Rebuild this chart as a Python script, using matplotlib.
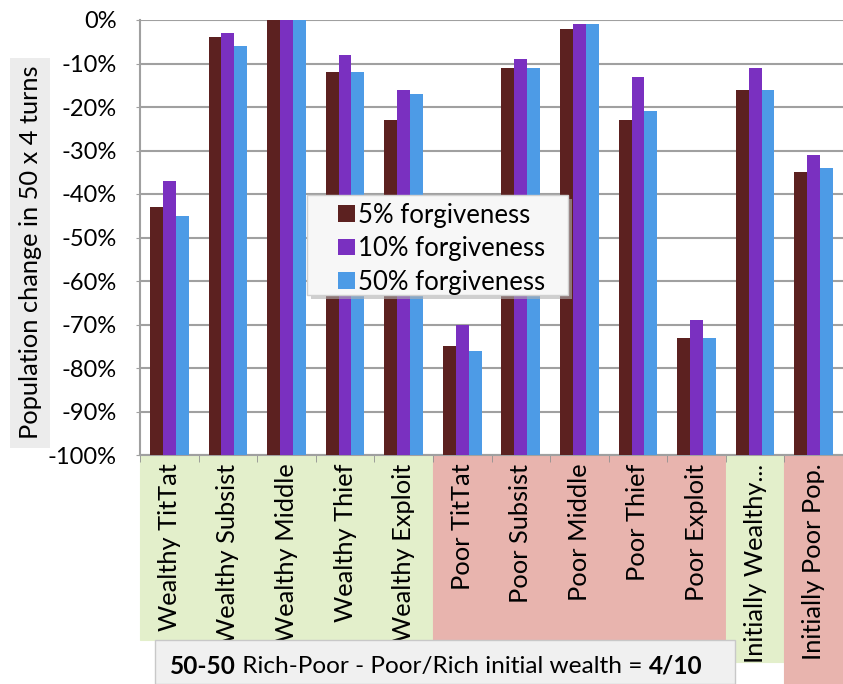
import numpy as np
import matplotlib
matplotlib.use("Agg")
import matplotlib.pyplot as plt
from matplotlib.patches import Rectangle
from matplotlib.text import Annotation
from matplotlib.container import BarContainer
from matplotlib.legend_handler import HandlerPatch, update_from_first_child

plt.rcParams['font.family'] = ['Lato', 'DejaVu Sans']

categories = ['Wealthy TitTat', 'Wealthy Subsist', 'Wealthy Middle', 'Wealthy Thief',
              'Wealthy Exploit', 'Poor TitTat', 'Poor Subsist', 'Poor Middle',
              'Poor Thief', 'Poor Exploit', 'Initially Wealthy...', 'Initially Poor Pop.']
forgive5 = [-43, -4, 0, -12, -23, -75, -11, -2, -23, -73, -16, -35]
forgive10 = [-37, -3, 0, -8, -16, -70, -9, -1, -13, -69, -11, -31]
forgive50 = [-45, -6, 0, -12, -17, -76, -11, -1, -21, -73, -16, -34]
series_names = ['5% forgiveness', '10% forgiveness', '50% forgiveness']
# label background per category: green for wealthy groups, pink for poor groups
label_bg = ['g', 'g', 'g', 'g', 'g', 'p', 'p', 'p', 'p', 'p', 'g', 'p']

colors = ['#5c2120', '#7a30c0', '#4d9be6']
bg_col = {'g': '#e3efcb', 'p': '#e8b4ae'}
base = -100  # excel axis crosses at -100%, bars grow up from there

fig = plt.figure(figsize=(8.43, 6.84), dpi=100)
ax = fig.add_axes([140/843, 1-455/684, 703/843, 435/684])

x = np.arange(len(categories))
w = 0.22
for i, vals in enumerate([forgive5, forgive10, forgive50]):
    vals = np.array(vals)
    ax.bar(x + (i-1)*w, vals - base, w, bottom=base, color=colors[i],
           label=series_names[i], zorder=3)

ax.set_xlim(-0.5, -0.5 + 703/59.2)
ax.set_ylim(-100, 0)
yt = np.arange(-100, 1, 10)
ax.set_yticks(yt)
ax.set_yticklabels(['%d%%' % v for v in yt], fontsize=17)
ax.yaxis.grid(True, color='#a0a0a0', linewidth=1.5, zorder=0)
ax.set_axisbelow(True)
for s in ['top', 'right']:
    ax.spines[s].set_visible(False)
for s in ['left', 'bottom']:
    ax.spines[s].set_color('#a0a0a0')
    ax.spines[s].set_linewidth(1.5)
ax.tick_params(axis='y', length=3, color='#a0a0a0', pad=14)
ax.set_xticks(x)
ax.set_xticklabels([])
ax.tick_params(axis='x', length=0)
ax.set_xticks(np.arange(-0.5, len(categories), 1), minor=True)
ax.tick_params(axis='x', which='minor', length=5, color='#909090', direction='out')

# coloured label cells under the axis, labels clipped to their cell
trans = ax.get_xaxis_transform()
for i, c in enumerate(label_bg):
    bottom = -0.425
    if i == 10:
        bottom = -0.476
    elif i == 11:
        bottom = -0.55
    cell = Rectangle((i-0.5, bottom), 1, -bottom, transform=trans,
                     facecolor=bg_col[c], edgecolor=bg_col[c], linewidth=0.8,
                     clip_on=False, zorder=0)
    ax.add_patch(cell)
    t = ax.text(i, -0.02, categories[i], transform=trans, rotation=90, ha='center', va='top',
                fontsize=18.3, color='black')
    t.set_clip_path(cell)

ax.set_ylabel('Population change in 50 x 4 turns', fontsize=18.3,
              bbox=dict(facecolor='#ececec', edgecolor='none', pad=6))
ax.yaxis.set_label_coords(-0.14, 0.465)


def square_handle(legend, orig_handle, xdescent, ydescent, width, height, fontsize):
    return Rectangle((width - height - xdescent, -ydescent), height, height)


# legend frame drawn by hand so the padding matches the original
lx0, lx1, ly0, ly1 = (307-140)/703, (568-140)/703, (455-295)/435, (455-195)/435
ax.add_patch(Rectangle((lx0 + 0.006, ly0 - 0.01), lx1 - lx0, ly1 - ly0, transform=ax.transAxes,
                       facecolor='#b0b0b0', edgecolor='none', alpha=0.6, zorder=4))
ax.add_patch(Rectangle((lx0, ly0), lx1 - lx0, ly1 - ly0, transform=ax.transAxes,
                       facecolor='#f7f7f7', edgecolor='#d0d0d0', zorder=4.5))
leg = ax.legend(loc='upper left', bbox_to_anchor=(lx0, ly1),
                fontsize=18.5, frameon=False,
                handlelength=1.55, handleheight=0.62, handletextpad=0.15,
                labelspacing=0.33, borderpad=0.3, borderaxespad=0,
                handler_map={BarContainer: HandlerPatch(patch_func=square_handle,
                                                        update_func=update_from_first_child)})
leg.set_zorder(5)

# bottom caption box
fig.patches.append(Rectangle((155/843, 0), 580/843, 44/684, transform=fig.transFigure,
                             facecolor='#f0f0f0', edgecolor='#c8c8c8', zorder=1))
t1 = fig.text(170/843, 1-666/684, '50-50', fontsize=17.6, fontweight='bold', va='center',
              zorder=3)
t2 = Annotation(' Rich-Poor - Poor/Rich initial wealth = ', xy=(1, 0.5), xycoords=t1,
                va='center', ha='left', fontsize=17.6, zorder=3)
fig.add_artist(t2)
t3 = Annotation('4/10', xy=(1, 0.5), xycoords=t2, va='center', ha='left',
                fontsize=17.6, fontweight='bold', zorder=3)
fig.add_artist(t3)

fig.savefig('out.png', dpi=100)
